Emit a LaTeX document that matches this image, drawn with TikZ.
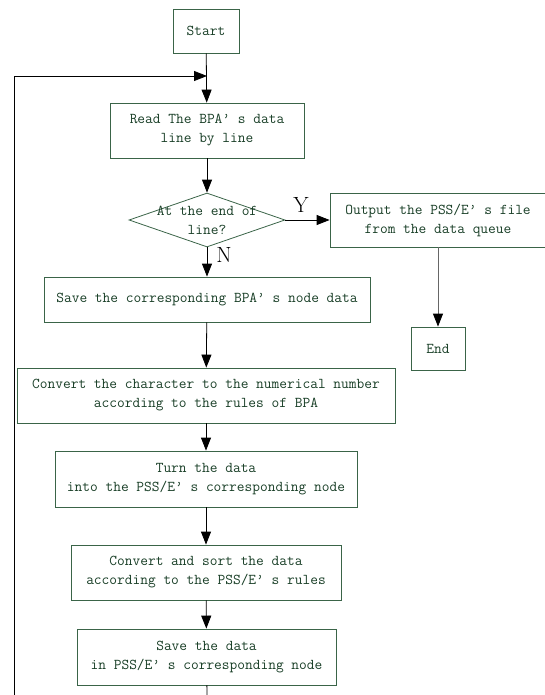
\documentclass[tikz,border=0pt]{standalone}
\usepackage{tikz}
\usetikzlibrary{arrows.meta,shapes.geometric}
\definecolor{boxgreen}{RGB}{58,100,72}
\definecolor{txtgreen}{RGB}{24,62,38}

\begin{document}
\begin{tikzpicture}[x=1pt, y=-1pt,
    box/.style={draw=boxgreen, line width=0.8pt, text=txtgreen, align=center,
        inner sep=0pt, font=\ttfamily\fontsize{15}{19}\selectfont},
    decision/.style={diamond, aspect=2.9, draw=boxgreen, line width=0.8pt,
        inner sep=0pt, minimum width=156pt, minimum height=54pt},
    condtxt/.style={text=txtgreen, align=center, inner sep=0pt,
        font=\ttfamily\fontsize{15}{19}\selectfont},
    flow/.style={line width=0.8pt, -{Triangle[length=13pt, width=10pt, color=black]}},
    yn/.style={font=\fontsize{22}{22}\selectfont}]
    %%%%% START %%%%%
    \useasboundingbox (0,0) rectangle (545,695);

    \node[box, minimum width=66pt, minimum height=44pt] (start) at (206,31) {Start};
    \node[box, minimum width=194pt, minimum height=55pt] (read) at (207,130.5) {Read The BPA’ s data\\line by line};
    \node[decision, label={[condtxt]center:At the end of\\line?}] (cond) at (207,220) {};
    \node[box, minimum width=216pt, minimum height=54pt] (out) at (438,220) {Output the PSS/E’ s file\\from the data queue};
    \node[box, minimum width=54pt, minimum height=43pt] (endbox) at (438,348.5) {End};

    \node[box, minimum width=326pt, minimum height=45pt] (savebpa) at (207,299.5) {Save the corresponding BPA’ s node data};
    \node[box, minimum width=378pt, minimum height=55pt] (conv) at (206,395.5) {Convert the character to the numerical number\\according to the rules of BPA};
    \node[box, minimum width=302pt, minimum height=56pt] (turn) at (206,479) {Turn the data\\into the PSS/E’ s corresponding node};
    \node[box, minimum width=270pt, minimum height=55pt] (sortd) at (206,572.5) {Convert and sort the data\\according to the PSS/E’ s rules};
    \node[box, minimum width=259pt, minimum height=56pt] (saved) at (206.5,657) {Save the data\\in PSS/E’ s corresponding node};

    \node[yn] (ylab) at (301,205) {Y};
    \node[yn] (nlab) at (224,255) {N};

    \coordinate (join) at (207,76);
    \coordinate (cutleft) at (14,695);
    \coordinate (cutmid) at (207,695);

    % main flow
    \draw[flow] (start) -- (read);
    \draw[flow] (cutleft) |- (join);
    \draw[flow] (read) -- (cond);
    \draw[flow] (cond.east) -- (out.west);
    \draw[flow, draw=black!60] (out) -- (endbox);
    \draw[flow] (cond) -- (savebpa);
    \draw[flow] (savebpa) -- (conv);
    \draw[flow] (conv) -- (turn);
    \draw[flow] (turn) -- (sortd);
    \draw[flow] (sortd) -- (saved);
    \draw[line width=0.8pt] (saved) -- (cutmid);

    %%%%% END %%%%%
\end{tikzpicture}
\end{document}
